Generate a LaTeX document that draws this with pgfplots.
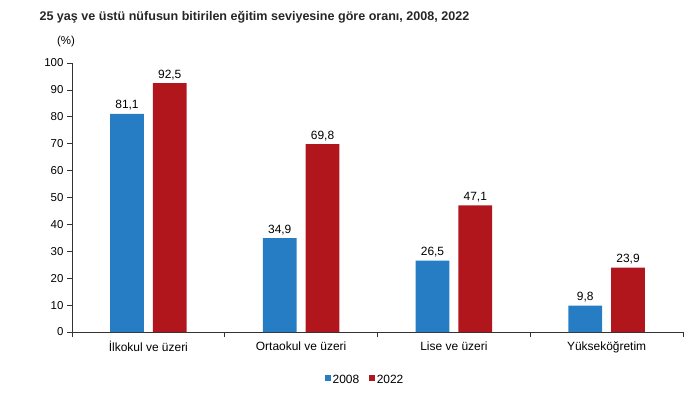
\documentclass[border=0pt]{standalone}
\usepackage{pgfplots}
\pgfplotsset{compat=1.18}
\usepackage{fontspec}
\setmainfont{Liberation Sans}
\definecolor{cblue}{RGB}{38,125,196}
\definecolor{cred}{RGB}{176,22,28}
\begin{document}
\begin{tikzpicture}[x=1bp,y=1bp]
\path[use as bounding box] (0,0) rectangle (700,392);
\node[anchor=west,font=\bfseries\fontsize{12.6}{14}\selectfont,text=black!85] at (36,375) {25 yaş ve üstü nüfusun bitirilen eğitim seviyesine göre oranı, 2008, 2022};
\node[font=\fontsize{11.5}{13}\selectfont] at (66,350) {(\%)};
\begin{axis}[
  at={(72bp,60bp)}, anchor=south west,
  scale only axis, width=611bp, height=269bp,
  xmin=-0.5, xmax=3.5, ymin=0, ymax=100,
  axis x line*=bottom, axis y line*=left,
  axis line style={black!80, line width=0.8pt},
  ytick={0,10,...,100},
  xtick={0,1,2,3},
  xticklabels={İlkokul ve üzeri, Ortaokul ve üzeri, Lise ve üzeri, Yükseköğretim},
  major x tick style={draw=none},
  minor xtick={-0.5,0.5,1.5,2.5,3.5},
  tick align=outside,
  major tick length=5bp, minor tick length=5bp,
  tick style={black!80, line width=0.8pt},
  y tick label style={font=\fontsize{11.5}{13}\selectfont},
  x tick label style={font=\fontsize{12}{14}\selectfont, yshift=-1bp},
  /pgf/number format/assume math mode=true,
  ybar, bar width=0.22, 
  nodes near coords,
  every node near coord/.append style={font=\fontsize{12}{14}\selectfont, text=black, /pgf/number format/.cd, fixed, fixed zerofill, precision=1, use comma},
  legend style={at={(0.48,-0.145)}, anchor=north, draw=none, legend columns=2, font=\fontsize{12}{14}\selectfont, /tikz/every even column/.append style={column sep=8bp}},
  legend image code/.code={\fill[#1] (0,-0.05em) rectangle (0.55em,0.5em);},
  clip=false,
]
\addplot[fill=cblue, draw=none, bar shift=-0.14] coordinates {(0,81.1) (1,34.9) (2,26.5) (3,9.8)};
\addplot[fill=cred, draw=none, bar shift=0.14] coordinates {(0,92.5) (1,69.8) (2,47.1) (3,23.9)};
\legend{2008, 2022}
\end{axis}
\end{tikzpicture}
\end{document}
